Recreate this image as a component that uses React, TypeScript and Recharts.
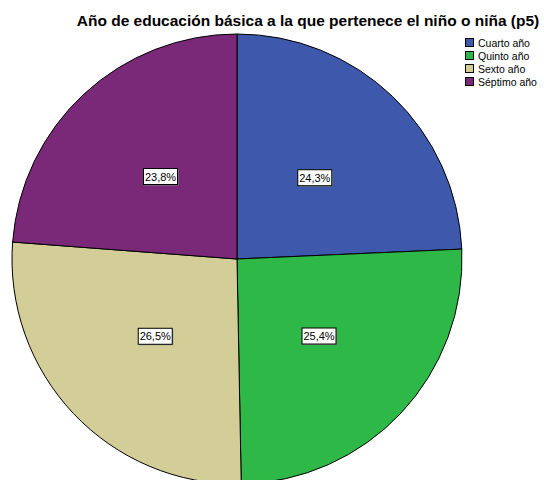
import { PieChart, Pie, Cell, Legend } from 'recharts'

const CATEGORIES = ['Cuarto año', 'Quinto año', 'Sexto año', 'Séptimo año']
const PERCENTS = [24.3, 25.4, 26.5, 23.8]
const COLORS = ['#3e58ac', '#2eb848', '#d3ce97', '#7a2878']
const TITLE = 'Año de educación básica a la que pertenece el niño o niña (p5)'

const RAD = Math.PI / 180

const data = CATEGORIES.map((name, i) => ({ name, value: PERCENTS[i] }))

function SliceLabel(props: any) {
  const { cx, cy, midAngle, outerRadius, value } = props
  const r = outerRadius * 0.5
  const x = cx + r * Math.cos(-midAngle * RAD)
  const y = cy + r * Math.sin(-midAngle * RAD)
  const text = value.toFixed(1).replace('.', ',') + '%'
  const w = 34
  const h = 16
  return (
    <g>
      <rect x={x - w / 2 + 1} y={y - h / 2 + 1} width={w} height={h} fill="#888" />
      <rect x={x - w / 2} y={y - h / 2} width={w} height={h} fill="#fff" stroke="#000" strokeWidth={1} />
      <text
        x={x}
        y={y + 4}
        textAnchor="middle"
        fontSize={11}
        fontFamily="'Liberation Sans', Arial, sans-serif"
        fill="#000"
      >
        {text}
      </text>
    </g>
  )
}

function LegendBox() {
  return (
    <div style={{ fontFamily: "'Liberation Sans', Arial, sans-serif", fontSize: 10.5, color: '#000' }}>
      {CATEGORIES.map((c, i) => (
        <div key={c} style={{ display: 'flex', alignItems: 'center', height: 13 }}>
          <span
            style={{
              display: 'inline-block',
              width: 9,
              height: 9,
              background: COLORS[i],
              border: '1px solid #000',
              boxSizing: 'border-box',
              marginRight: 4,
            }}
          />
          <span>{c}</span>
        </div>
      ))}
    </div>
  )
}

export default function App() {
  return (
    <div style={{ position: 'absolute', left: 0, top: 0, width: 544, height: 480, background: '#fff', overflow: 'hidden' }}>
      <div
        style={{
          position: 'absolute',
          top: 12,
          left: 0,
          width: 544,
          paddingLeft: 72,
          boxSizing: 'border-box',
          textAlign: 'center',
          fontFamily: "'Liberation Sans', Arial, sans-serif",
          fontWeight: 'bold',
          fontSize: 15.5,
          color: '#000',
          whiteSpace: 'nowrap',
        }}
      >
        {TITLE}
      </div>
      <PieChart width={544} height={480} margin={{ top: 0, right: 0, bottom: 0, left: 0 }}>
        <Pie
          data={data}
          dataKey="value"
          nameKey="name"
          cx={237}
          cy={259}
          outerRadius={225}
          startAngle={90}
          endAngle={-270}
          stroke="#000"
          strokeWidth={1}
          label={SliceLabel}
          labelLine={false}
          isAnimationActive={false}
        >
          {data.map((d, i) => (
            <Cell key={d.name} fill={COLORS[i]} />
          ))}
        </Pie>
        <Legend
          content={() => <LegendBox />}
          wrapperStyle={{ position: 'absolute', left: 465, top: 36, width: 80 }}
        />
      </PieChart>
    </div>
  )
}
